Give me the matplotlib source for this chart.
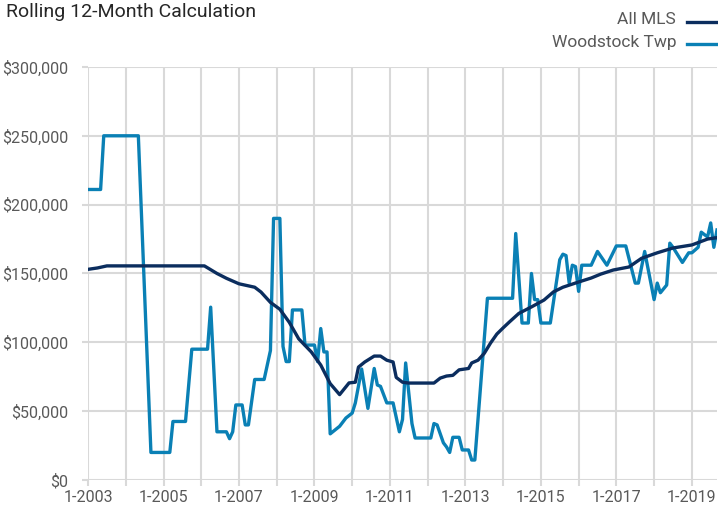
import matplotlib.pyplot as plt
from matplotlib.lines import Line2D
from matplotlib.ticker import FuncFormatter

plt.rcParams["font.family"] = ["Roboto", "DejaVu Sans"]

# month index 0 = Jan 2003
mls_months = [0, 3, 6, 37, 41, 44, 48, 51, 53, 55, 58, 61, 64, 67, 71, 74, 77, 80, 83,
              85, 86, 88, 91, 93, 95, 97, 98, 100, 102, 110, 112, 114, 116, 118, 121,
              122, 124, 126, 128, 130, 132, 134, 137, 141, 145, 148, 151, 156, 160,
              163, 167, 172, 176, 181, 186, 192, 197, 200]
mls_values = [153000, 154000, 155500, 155500, 150000, 146500, 142500, 141000, 140000,
              136500, 129000, 124000, 114500, 102500, 93000, 83500, 70000, 62000, 70500,
              71000, 82000, 85700, 90000, 90000, 87000, 85700, 74500, 71000, 70400, 70400,
              74000, 75500, 76000, 80000, 81000, 85000, 87000, 92000, 99500, 106000,
              110500, 114800, 121000, 125700, 130700, 136600, 140000, 143800, 146700,
              149500, 152500, 154700, 161000, 165000, 168500, 170700, 175000, 176000]

wood_months = [0, 4, 5, 16, 20, 26, 27, 31, 33, 38, 39, 41, 44, 45, 46, 47, 49, 50, 51,
               53, 56, 58, 59, 61, 62, 63, 64, 65, 68, 69, 72, 73, 74, 75, 76, 77, 80,
               82, 84, 85, 87, 89, 91, 92, 93, 95, 97, 99, 100, 101, 103, 104, 109, 110,
               111, 113, 114, 115, 116, 118, 119, 121, 122, 123, 127, 135, 136, 138, 140,
               141, 142, 143, 144, 147, 150, 151, 152, 153, 154, 155, 156, 157, 160, 162,
               165, 168, 171, 174, 175, 177, 180, 181, 182, 184, 185, 186, 189, 191, 192,
               194, 195, 197, 198, 199, 200]
wood_values = [211000, 211000, 250000, 250000, 20000, 20000, 42500, 42500, 95000, 95000,
               125500, 35000, 35000, 30000, 35000, 54500, 54500, 40000, 40000, 73000,
               73000, 94000, 190000, 190000, 97000, 86000, 86000, 123500, 123500, 98000,
               98000, 86000, 110000, 93000, 93000, 33500, 39000, 45000, 48600, 56000,
               80600, 52000, 81000, 69000, 68000, 56000, 56000, 35000, 44000, 85000,
               41000, 30500, 30500, 41000, 40000, 27000, 24000, 20000, 31000, 31000,
               21800, 21800, 14500, 14500, 132000, 132000, 179000, 114000, 114000,
               150000, 131000, 131000, 114000, 114000, 160000, 164000, 163000, 143000,
               156000, 155000, 137000, 156000, 156000, 166000, 156000, 170000, 170000,
               143000, 143000, 166000, 131000, 143000, 136000, 141600, 172000, 169000,
               158000, 165000, 165000, 169000, 180000, 176500, 186700, 169000, 181600]

year_ticks = list(range(0, 193, 12))
year_labels = [f"1-{2003 + m // 12}" if m % 24 == 0 else "" for m in year_ticks]

NAVY = "#0b2d5e"
BLUE = "#0a80b5"
GRID = "#d9d9d9"
TEXT = "#595959"

fig = plt.figure(figsize=(7.18, 5.15), dpi=100)
ax = fig.add_axes([0.1226, 0.068, 0.876, 0.802])

ax.plot(wood_months, wood_values, color=BLUE, lw=2.4, solid_joinstyle="round", zorder=3)
ax.plot(mls_months, mls_values, color=NAVY, lw=2.4, solid_joinstyle="round", zorder=4)

ax.set_xlim(0, 200)
ax.set_ylim(0, 300000)
ax.set_xticks(year_ticks)
ax.set_xticklabels(year_labels)
ax.set_yticks(range(0, 300001, 50000))
ax.yaxis.set_major_formatter(FuncFormatter(lambda v, p: f"${v:,.0f}"))

ax.grid(True, color=GRID, lw=1.5)
ax.set_axisbelow(True)
for s in ax.spines.values():
    s.set_visible(False)
ax.tick_params(axis="both", colors=GRID, width=1.5, length=4.5, labelsize=11.5,
               labelcolor=TEXT)
ax.tick_params(axis="y", pad=10)
ax.tick_params(axis="x", pad=3)

fig.text(0.008, 0.995, "Rolling 12-Month Calculation", fontsize=14, color="#262626",
         va="top", ha="left")

# legend, text left of line
for i, (name, col) in enumerate([("All MLS", NAVY), ("Woodstock Twp", BLUE)]):
    yy = 1 - (20 + 22 * i) / 515
    fig.text(676 / 718, yy, name, fontsize=12.5, color=TEXT, ha="right", va="center")
    fig.add_artist(Line2D([687 / 718, 717 / 718], [yy - 2 / 515, yy - 2 / 515],
                          color=col, lw=2.4, transform=fig.transFigure))

fig.savefig("out.png", dpi=100)
